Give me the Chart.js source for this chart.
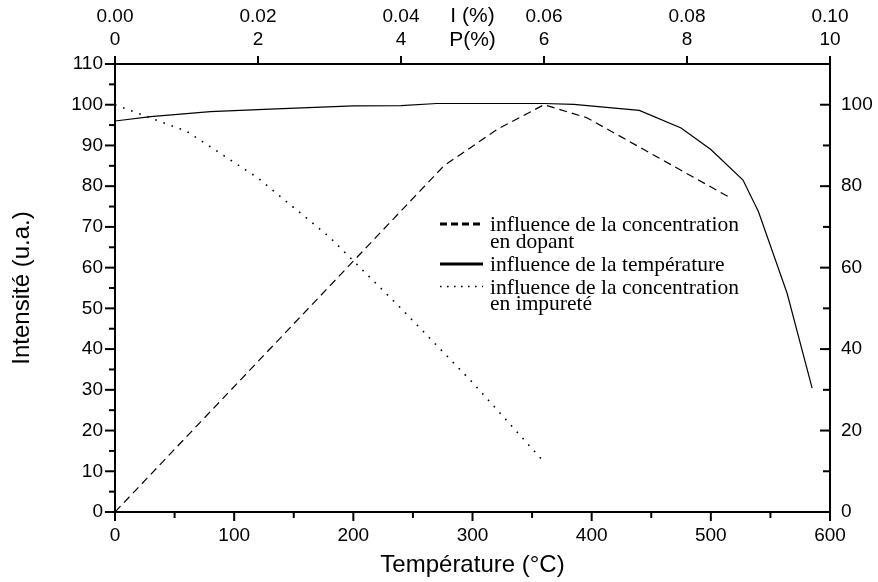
<!DOCTYPE html>
<html><head><meta charset="utf-8">
<script src="https://cdn.jsdelivr.net/npm/chart.js@4/dist/chart.umd.min.js"></script>
<style>html,body{margin:0;padding:0;background:#fff;overflow:hidden}</style>
</head><body>
<canvas id="c" width="878" height="582"></canvas>
<script>
// ---- data ----
const tempX = [0, 30, 80, 130, 200, 240, 270, 360, 385, 440, 475, 500, 527, 540, 564, 585];
const tempY = [96, 97.1, 98.3, 98.9, 99.7, 99.8, 100.3, 100.3, 100.1, 98.6, 94.3, 89, 81.5, 73.7, 53.7, 30.4];
const dopantX = [0, 4.6, 5.35, 6.0, 6.6, 8.58];
const dopantY = [0, 85, 94, 100, 96.8, 77.4];
const impurX = [0, 0.01, 0.02, 0.03, 0.04, 0.05, 0.06];
const impurY = [100, 93.5, 82, 67.5, 50, 31.8, 12.3];

const tempTicks = [0, 100, 200, 300, 400, 500, 600];
const tempMinor = [50, 150, 250, 350, 450, 550];
const leftTicks = [0, 10, 20, 30, 40, 50, 60, 70, 80, 90, 100, 110];
const leftMinor = [5, 15, 25, 35, 45, 55, 65, 75, 85, 95, 105];
const rightTicks = [0, 20, 40, 60, 80, 100];
const rightMinor = [10, 30, 50, 70, 90];
const iTicks = [0, 0.02, 0.04, 0.06, 0.08, 0.10];
const pTicks = [0, 2, 4, 6, 8, 10];

const legendDopant = ['influence de la concentration', 'en dopant'];
const legendTemp = ['influence de la température'];
const legendImpur = ['influence de la concentration', 'en impureté'];

const toPts = (xs, ys) => xs.map((x, i) => ({x: x, y: ys[i]}));

Chart.defaults.font.family = "'Liberation Sans', Arial, sans-serif";
Chart.defaults.color = '#000';

const tickFont = {size: 19};

const setTicks = arr => (scale) => { scale.ticks = arr.map(v => ({value: v})); };

const axisPlugin = {
  id: 'axisDecor',
  afterDraw(chart) {
    const ctx = chart.ctx, s = chart.scales, a = chart.chartArea;
    ctx.save();
    ctx.strokeStyle = '#000';
    ctx.lineWidth = 2;
    ctx.lineCap = 'butt';
    const line = (x1, y1, x2, y2) => { ctx.beginPath(); ctx.moveTo(x1, y1); ctx.lineTo(x2, y2); ctx.stroke(); };
    tempTicks.forEach(v => { const p = s.x.getPixelForValue(v); line(p, a.bottom, p, a.bottom + 9); });
    tempMinor.forEach(v => { const p = s.x.getPixelForValue(v); line(p, a.bottom, p, a.bottom + 6); });
    leftTicks.forEach(v => { const p = s.y.getPixelForValue(v); line(a.left, p, a.left - 10, p); });
    leftMinor.forEach(v => { const p = s.y.getPixelForValue(v); line(a.left, p, a.left - 6, p); });
    rightTicks.forEach(v => { const p = s.y2.getPixelForValue(v); line(a.right, p, a.right - 10, p); });
    rightMinor.forEach(v => { const p = s.y2.getPixelForValue(v); line(a.right, p, a.right - 7, p); });
    pTicks.forEach(v => { const p = s.xP.getPixelForValue(v); line(p, a.top, p, a.top - 8); });

    // top axis titles
    ctx.fillStyle = '#000';
    ctx.font = "21px 'Liberation Sans', Arial, sans-serif";
    ctx.textAlign = 'center';
    ctx.textBaseline = 'middle';
    const cx = s.xP.getPixelForValue(5);
    ctx.fillText('I (%)', cx, 16);
    ctx.fillText('P(%)', cx, 40);

    // legend
    const ds = chart.data.datasets;
    const lx0 = 440, lx1 = 483, tx = 490, lh = 16.5;
    ctx.font = "21.5px 'Liberation Serif', 'Times New Roman', serif";
    ctx.textAlign = 'left';
    ctx.textBaseline = 'alphabetic';
    const entries = [
      {d: ds[0], base: 231, w: 3, dash: [7, 4]},
      {d: ds[1], base: 271, w: 3, dash: []},
      {d: ds[2], base: 293.5, w: 1.6, dash: [1.6, 5.4]}
    ];
    entries.forEach(e => {
      ctx.lineWidth = e.w;
      ctx.setLineDash(e.dash);
      const sy = e.base - 7;
      line(lx0, sy, lx1, sy);
      ctx.setLineDash([]);
      e.d.legendLines.forEach((t, i) => ctx.fillText(t, tx, e.base + i * lh));
    });
    ctx.restore();
  }
};

new Chart(document.getElementById('c'), {
  type: 'line',
  data: {
    datasets: [
      {label: legendDopant.join(' '), legendLines: legendDopant, data: toPts(dopantX, dopantY),
       xAxisID: 'xP', yAxisID: 'y', borderColor: '#000', borderWidth: 1.2, borderDash: [8, 5],
       pointRadius: 0, tension: 0, fill: false},
      {label: legendTemp.join(' '), legendLines: legendTemp, data: toPts(tempX, tempY),
       xAxisID: 'x', yAxisID: 'y', borderColor: '#000', borderWidth: 1.2,
       pointRadius: 0, tension: 0, fill: false},
      {label: legendImpur.join(' '), legendLines: legendImpur, data: toPts(impurX, impurY),
       xAxisID: 'xI', yAxisID: 'y', borderColor: '#000', borderWidth: 1.6, borderDash: [1.6, 7],
       pointRadius: 0, tension: 0, fill: false}
    ]
  },
  options: {
    responsive: false,
    animation: false,
    devicePixelRatio: 1,
    layout: {padding: 0},
    plugins: {legend: {display: false}, tooltip: {enabled: false}},
    scales: {
      xP: {
        type: 'linear', position: 'top', min: 0, max: 10,
        afterBuildTicks: setTicks(pTicks),
        afterFit: s => { s.height = 35; },
        grid: {display: true, drawOnChartArea: false, drawTicks: false},
        border: {display: true, color: '#000', width: 2},
        ticks: {font: tickFont, padding: 13, autoSkip: false, maxRotation: 0}
      },
      xI: {
        type: 'linear', position: 'top', min: 0, max: 0.1,
        afterBuildTicks: setTicks(iTicks),
        afterFit: s => { s.height = 29; },
        grid: {display: true, drawOnChartArea: false, drawTicks: false},
        border: {display: false},
        ticks: {font: tickFont, padding: 1, autoSkip: false, maxRotation: 0,
                callback: v => Number(v).toFixed(2)}
      },
      x: {
        type: 'linear', position: 'bottom', min: 0, max: 600,
        afterBuildTicks: setTicks(tempTicks),
        afterFit: s => { s.height = 70; },
        grid: {display: true, drawOnChartArea: false, drawTicks: false},
        border: {display: true, color: '#000', width: 2},
        ticks: {font: tickFont, padding: 12, autoSkip: false, maxRotation: 0},
        title: {display: true, text: 'Température (°C)', font: {size: 24}, padding: {top: 0, bottom: 2}}
      },
      y: {
        type: 'linear', position: 'left', min: 0, max: 110,
        afterBuildTicks: setTicks(leftTicks),
        afterFit: s => { s.width = 115; },
        grid: {display: true, drawOnChartArea: false, drawTicks: false},
        border: {display: true, color: '#000', width: 2},
        ticks: {font: tickFont, padding: 12, autoSkip: false},
        title: {display: true, text: 'Intensité (u.a.)', font: {size: 24}, padding: {top: 8, bottom: 0}}
      },
      y2: {
        type: 'linear', position: 'right', min: 0, max: 110,
        afterBuildTicks: setTicks(rightTicks),
        afterFit: s => { s.width = 48; },
        grid: {display: true, drawOnChartArea: false, drawTicks: false},
        border: {display: true, color: '#000', width: 2},
        ticks: {font: tickFont, padding: 11, autoSkip: false}
      }
    }
  },
  plugins: [axisPlugin]
});
</script>
</body></html>
